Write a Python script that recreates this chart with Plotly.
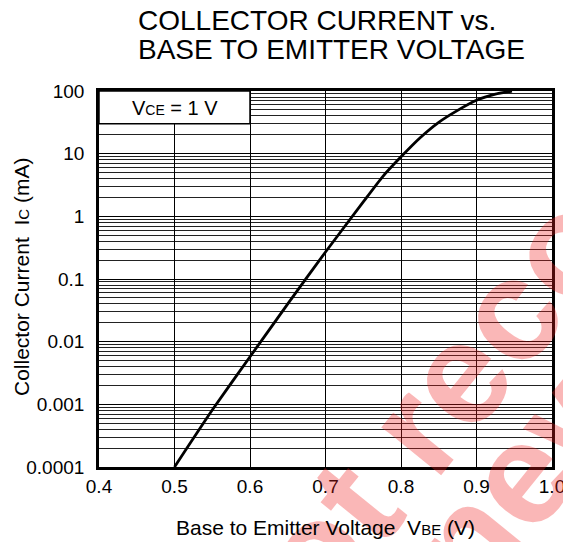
import plotly.graph_objects as go

# ---- data ----
vbe = [0.5, 0.55, 0.6, 0.65, 0.7, 0.75, 0.775, 0.8, 0.825, 0.85, 0.875, 0.9, 0.925, 0.947]
ic_ma = [0.0001, 0.00081, 0.00575, 0.040, 0.27, 1.7, 4.2, 8.9, 17.8, 31.6, 49, 71, 89, 100]

x_ticks = [0.4, 0.5, 0.6, 0.7, 0.8, 0.9, 1.0]
x_ticktext = ["0.4", "0.5", "0.6", "0.7", "0.8", "0.9", "1.0"]
y_ticks = [0.0001, 0.001, 0.01, 0.1, 1, 10, 100]
y_ticktext = ["0.0001", "0.001", "0.01", "0.1", "1", "10", "100"]

title_lines = ["COLLECTOR CURRENT vs.", "BASE TO EMITTER VOLTAGE"]
condition = "V<span style='font-size:14px'>CE</span> = 1 V"
x_title = "Base to Emitter Voltage  V<span style='font-size:15px'>BE</span> (V)"
y_title = "Collector Current  I<span style='font-size:15px'>C</span> (mA)"
watermark = ["not recommended", "for new design"]

FONT = "Liberation Sans, Arial, Helvetica, sans-serif"

fig = go.Figure()
fig.add_trace(go.Scatter(
    x=vbe, y=ic_ma, mode="lines",
    line=dict(color="black", width=2.8, shape="spline", smoothing=0.5),
    hoverinfo="skip", showlegend=False,
))

# page has an 8px body margin: figure occupies window pixels 8..571 / 8..542
OFF = 8
W, H = 571 - OFF, 542 - OFF
ml, mr, mt, mb = 99 - OFF, 19, 91 - OFF, 75
pw, ph = W - ml - mr, H - mt - mb

def px(x):  # window pixel -> paper x
    return (x - OFF - ml) / pw

def py(y):  # window pixel -> paper y
    return (H - mb - (y - OFF)) / ph

annotations = []
# watermark (drawn first, semi-transparent)
wm_pos = [(624, 170), (612, 361)]
for txt, (ax_, ay_) in zip(watermark, wm_pos):
    annotations.append(dict(
        text=txt, xref="paper", yref="paper", x=px(ax_), y=py(ay_),
        xanchor="center", yanchor="middle", showarrow=False, textangle=-51,
        font=dict(family=FONT, size=145, color="rgba(240,30,30,0.32)", weight="bold"),
    ))
# title lines
for txt, yc in zip(title_lines, [20, 49]):
    annotations.append(dict(
        text=txt, xref="paper", yref="paper", x=px(136), y=py(yc),
        xanchor="left", yanchor="middle", showarrow=False,
        font=dict(family=FONT, size=28, color="black"),
    ))
# condition label inside the box
annotations.append(dict(
    text=condition, xref="x", yref="paper", x=0.5, y=py(108),
    xanchor="center", yanchor="middle", showarrow=False,
    font=dict(family=FONT, size=20, color="black"),
))
# axis titles
annotations.append(dict(
    text=x_title, xref="paper", yref="paper", x=px(325), y=py(527),
    xanchor="center", yanchor="middle", showarrow=False,
    font=dict(family=FONT, size=21, color="black"),
))
annotations.append(dict(
    text=y_title, xref="paper", yref="paper", x=px(21), y=py(277),
    xanchor="center", yanchor="middle", showarrow=False, textangle=-90,
    font=dict(family=FONT, size=21, color="black"),
))

fig.update_layout(
    width=W, height=H,
    margin=dict(l=ml, r=mr, t=mt, b=mb, autoexpand=False),
    paper_bgcolor="white", plot_bgcolor="white",
    font=dict(family=FONT, color="black"),
    annotations=annotations,
    shapes=[dict(
        type="rect", xref="x", yref="y", x0=0.4, x1=0.6, y0=30, y1=100,
        fillcolor="white", line=dict(color="black", width=1.5), layer="above",
    )],
)

fig.update_xaxes(
    range=[0.4, 1.0], tickvals=x_ticks, ticktext=x_ticktext,
    showgrid=True, gridcolor="black", gridwidth=1.4,
    showline=True, linecolor="black", linewidth=2.6, mirror=True,
    ticks="", ticklabelstandoff=0, zeroline=False, automargin=False,
    tickfont=dict(family=FONT, size=19, color="black"),
)
fig.update_yaxes(
    type="log", range=[-4, 2], tickvals=y_ticks, ticktext=y_ticktext,
    showgrid=True, gridcolor="black", gridwidth=1.2,
    minor=dict(tickmode="linear", dtick="D1", showgrid=True, gridcolor="#222", gridwidth=1, ticks=""),
    showline=True, linecolor="black", linewidth=2.6, mirror=True,
    ticks="", ticklabelstandoff=8, zeroline=False, automargin=False,
    tickfont=dict(family=FONT, size=19, color="black"),
)

fig.write_html("out.html")
